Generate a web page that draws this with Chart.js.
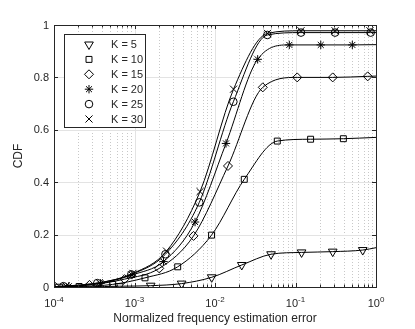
<!DOCTYPE html>
<html lang="en">
<head>
<meta charset="UTF-8">
<title>CDF of normalized frequency estimation error</title>
<script src="https://cdn.jsdelivr.net/npm/chart.js"></script>
<style>
  html, body { margin: 0; padding: 0; background: #fff; }
  #wrap { width: 415px; height: 329px; }
</style>
</head>
<body>
<div id="wrap"><canvas id="cdfChart" width="415" height="329"></canvas></div>
<script>
// series (first / last point of each series = curve ends, no marker)
const seriesLabels = ["K = 5", "K = 10", "K = 15", "K = 20", "K = 25", "K = 30"];

const k5X = [1e-4, 1.15e-4, 2.75e-4, 6.47e-4, 1.59e-3, 3.85e-3, 9.1e-3, 0.0215, 0.0497, 0.119, 0.290, 0.684, 1];
const k5Y = [0, 0.001, 0.001, 0.003, 0.005, 0.013, 0.037, 0.084, 0.125, 0.132, 0.135, 0.141, 0.150];

const k10X = [1e-4, 2.05e-4, 5.36e-4, 1.35e-3, 3.44e-3, 9.06e-3, 0.0231, 0.0594, 0.154, 0.393, 1];
const k10Y = [0.001, 0.002, 0.010, 0.035, 0.077, 0.198, 0.411, 0.557, 0.564, 0.566, 0.571];

const k15X = [1e-4, 1.03e-4, 2.76e-4, 7.52e-4, 2.03e-3, 5.41e-3, 0.0145, 0.0392, 0.105, 0.290, 0.789, 1];
const k15Y = [0.001, 0.001, 0.008, 0.030, 0.071, 0.195, 0.462, 0.762, 0.800, 0.800, 0.804, 0.805];

const k20X = [1e-4, 1.53e-4, 3.79e-4, 9.31e-4, 2.29e-3, 5.65e-3, 0.0137, 0.0339, 0.0838, 0.206, 0.508, 1];
const k20Y = [0.001, 0.003, 0.014, 0.046, 0.097, 0.248, 0.548, 0.869, 0.924, 0.924, 0.924, 0.925];

const k25X = [1e-4, 1.31e-4, 3.45e-4, 9.12e-4, 2.42e-3, 6.38e-3, 0.0169, 0.0447, 0.117, 0.310, 0.859, 1];
const k25Y = [0.001, 0.003, 0.015, 0.048, 0.125, 0.323, 0.707, 0.962, 0.971, 0.971, 0.971, 0.971];

const k30X = [1e-4, 1.41e-4, 3.67e-4, 9.57e-4, 2.50e-3, 6.52e-3, 0.0170, 0.0449, 0.117, 0.310, 0.841, 1];
const k30Y = [0.001, 0.004, 0.016, 0.052, 0.137, 0.364, 0.755, 0.968, 0.978, 0.978, 0.978, 0.978];

const xExponents = [-4, -3, -2, -1, 0];
const yTickValues = [0, 0.2, 0.4, 0.6, 0.8, 1];
const yTickLabels = ["0", "0.2", "0.4", "0.6", "0.8", "1"];

const INK = '#262626';
const FONT = 'Arial, "Liberation Sans", Helvetica, sans-serif';

const markers = [
  { style: 'triangle', radius: 5, rotation: 180 },
  { style: 'rect', radius: 4.2, rotation: 0 },
  { style: 'rectRot', radius: 4.5, rotation: 0 },
  { style: 'star', radius: 4.2, rotation: 0 },
  { style: 'circle', radius: 3.8, rotation: 0 },
  { style: 'crossRot', radius: 5, rotation: 0 }
];

const allX = [k5X, k10X, k15X, k20X, k25X, k30X];
const allY = [k5Y, k10Y, k15Y, k20Y, k25Y, k30Y];

const datasets = seriesLabels.map(function (label, i) {
  const xs = allX[i], ys = allY[i];
  const n = xs.length;
  return {
    label: label,
    data: xs.map(function (x, j) { return { x: x, y: ys[j] }; }),
    borderColor: '#000',
    borderWidth: 1,
    backgroundColor: 'rgba(0,0,0,0)',
    pointStyle: markers[i].style,
    pointRotation: markers[i].rotation,
    pointBorderColor: '#000',
    pointBorderWidth: 1,
    pointRadius: function (ctx) {
      return (ctx.dataIndex === 0 || ctx.dataIndex === n - 1) ? 0 : markers[i].radius;
    },
    cubicInterpolationMode: 'monotone',
    fill: false
  };
});

function line(ctx, x1, y1, x2, y2) {
  ctx.beginPath();
  ctx.moveTo(x1, y1);
  ctx.lineTo(x2, y2);
  ctx.stroke();
}

// grid underneath the curves
const gridPlugin = {
  id: 'matlabGrid',
  beforeDatasetsDraw(chart) {
    const { ctx, chartArea: a, scales: { x, y } } = chart;
    ctx.save();
    ctx.lineWidth = 1;
    // minor vertical dotted lines
    ctx.strokeStyle = '#c8c8c8';
    ctx.setLineDash([1, 2]);
    for (let e = -4; e < 0; e++) {
      for (let m = 2; m <= 9; m++) {
        const px = Math.round(x.getPixelForValue(m * Math.pow(10, e))) + 0.5;
        line(ctx, px, a.top, px, a.bottom);
      }
    }
    // major lines
    ctx.setLineDash([]);
    ctx.strokeStyle = '#e3e3e3';
    xExponents.slice(1, -1).forEach(function (e) {
      const px = Math.round(x.getPixelForValue(Math.pow(10, e))) + 0.5;
      line(ctx, px, a.top, px, a.bottom);
    });
    yTickValues.slice(1, -1).forEach(function (v) {
      const py = Math.round(y.getPixelForValue(v)) + 0.5;
      line(ctx, a.left, py, a.right, py);
    });
    ctx.restore();
  },
  afterDatasetsDraw(chart) {
    const { ctx, chartArea: a, scales: { x, y } } = chart;
    ctx.save();
    ctx.strokeStyle = INK;
    ctx.lineWidth = 1;
    ctx.strokeRect(Math.round(a.left) + 0.5, Math.round(a.top) + 0.5,
      Math.round(a.right - a.left), Math.round(a.bottom - a.top));

    // inward ticks on all four sides
    for (let e = -4; e <= 0; e++) {
      const major = Math.round(x.getPixelForValue(Math.pow(10, e))) + 0.5;
      line(ctx, major, a.bottom, major, a.bottom - 4);
      line(ctx, major, a.top, major, a.top + 4);
      if (e === 0) break;
      for (let m = 2; m <= 9; m++) {
        const px = Math.round(x.getPixelForValue(m * Math.pow(10, e))) + 0.5;
        line(ctx, px, a.bottom, px, a.bottom - 2.5);
        line(ctx, px, a.top, px, a.top + 2.5);
      }
    }
    yTickValues.forEach(function (v) {
      const py = Math.round(y.getPixelForValue(v)) + 0.5;
      line(ctx, a.left, py, a.left + 4, py);
      line(ctx, a.right, py, a.right - 4, py);
    });

    // tick labels
    ctx.fillStyle = INK;
    ctx.textBaseline = 'middle';
    ctx.textAlign = 'right';
    ctx.font = '11px ' + FONT;
    yTickValues.forEach(function (v, i) {
      ctx.fillText(yTickLabels[i], a.left - 5, y.getPixelForValue(v) + 0.5);
    });
    ctx.textBaseline = 'alphabetic';
    ctx.textAlign = 'left';
    xExponents.forEach(function (e) {
      const px = x.getPixelForValue(Math.pow(10, e));
      ctx.font = '11px ' + FONT;
      const baseW = ctx.measureText('10').width;
      ctx.font = '8px ' + FONT;
      const expText = String(e);
      const expW = ctx.measureText(expText).width;
      const start = px - (baseW + expW) / 2;
      ctx.font = '11px ' + FONT;
      ctx.fillText('10', start, a.bottom + 20);
      ctx.font = '8px ' + FONT;
      ctx.fillText(expText, start + baseW, a.bottom + 15);
    });

    // axis titles
    ctx.font = '12px ' + FONT;
    ctx.textAlign = 'center';
    ctx.fillText('Normalized frequency estimation error', (a.left + a.right) / 2, 322);
    ctx.save();
    ctx.translate(22, (a.top + a.bottom) / 2);
    ctx.rotate(-Math.PI / 2);
    ctx.textBaseline = 'alphabetic';
    ctx.fillText('CDF', 0, 0);
    ctx.restore();

    // legend box
    const lx = 64.5, ly = 34.5, lw = 81, lh = 93;
    ctx.fillStyle = '#fff';
    ctx.fillRect(lx, ly, lw, lh);
    ctx.strokeStyle = INK;
    ctx.strokeRect(lx, ly, lw, lh);
    ctx.font = '11px ' + FONT;
    ctx.textAlign = 'left';
    ctx.textBaseline = 'middle';
    seriesLabels.forEach(function (label, i) {
      const ry = 44.5 + i * 14.9;
      ctx.strokeStyle = '#000';
      ctx.fillStyle = 'rgba(0,0,0,0)';
      ctx.lineWidth = 1;
      Chart.helpers.drawPoint(ctx, {
        pointStyle: markers[i].style,
        rotation: markers[i].rotation,
        radius: markers[i].radius,
        borderWidth: 1
      }, 89, ry);
      ctx.fillStyle = INK;
      ctx.fillText(label, 111, ry + 0.5);
    });
    ctx.restore();
  }
};

new Chart(document.getElementById('cdfChart'), {
  type: 'line',
  data: { datasets: datasets },
  options: {
    responsive: false,
    animation: false,
    layout: { padding: { top: 25, right: 39, bottom: 0, left: 0 } },
    plugins: { legend: { display: false }, tooltip: { enabled: false } },
    scales: {
      x: {
        type: 'logarithmic',
        min: 1e-4,
        max: 1,
        ticks: { display: false },
        grid: { display: false },
        border: { display: false },
        afterFit: function (scale) { scale.height = 42; }
      },
      y: {
        type: 'linear',
        min: 0,
        max: 1,
        ticks: { display: false },
        grid: { display: false },
        border: { display: false },
        afterFit: function (scale) { scale.width = 54; }
      }
    }
  },
  plugins: [gridPlugin]
});
</script>
</body>
</html>
